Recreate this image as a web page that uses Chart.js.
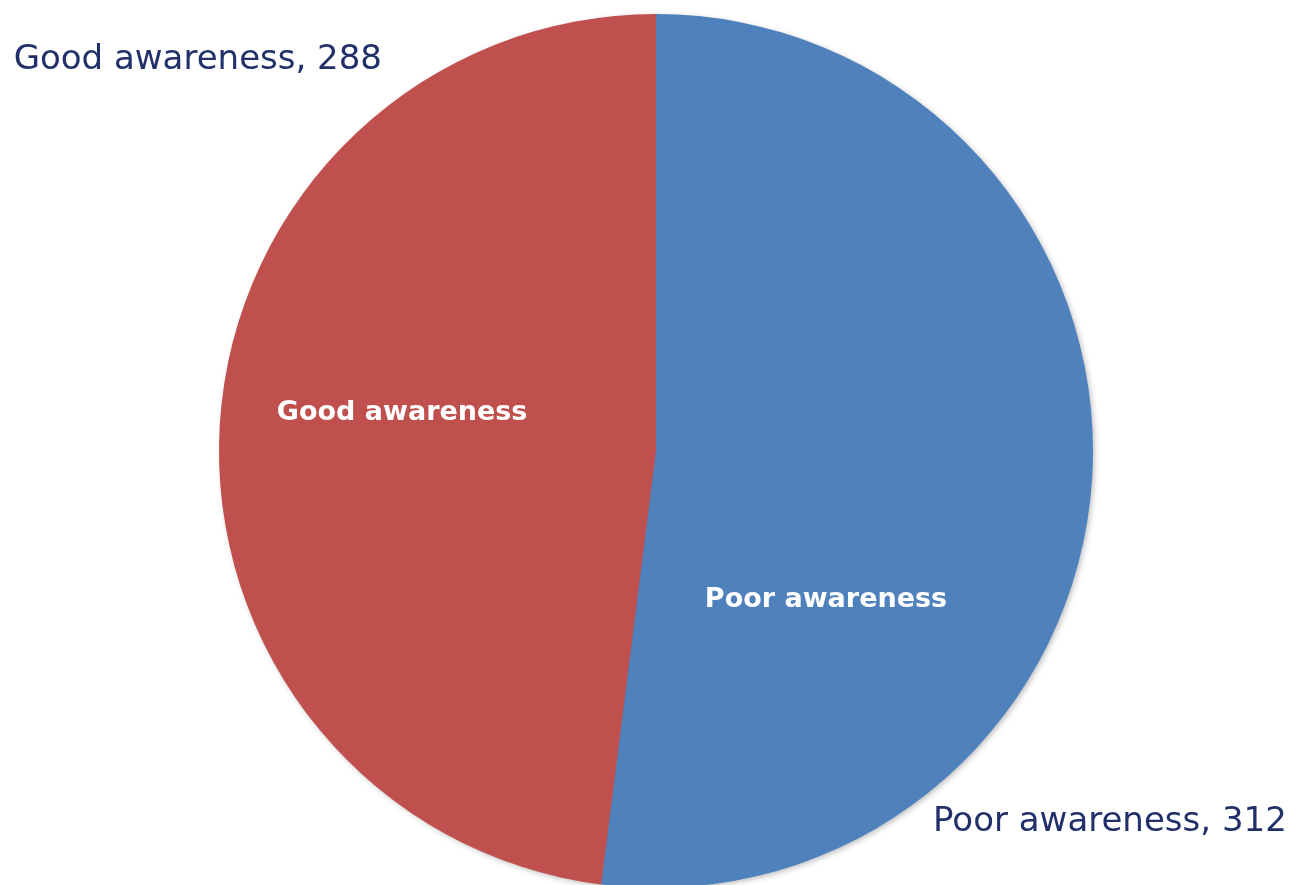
<!DOCTYPE html>
<html>
<head>
<meta charset="utf-8">
<script src="https://cdn.jsdelivr.net/npm/chart.js@4/dist/chart.umd.min.js"></script>
<style>
  html, body { margin: 0; padding: 0; background: #fff; overflow: hidden; }
  #wrap { width: 1301px; height: 888px; position: relative; }
</style>
</head>
<body>
<div id="wrap"><canvas id="pie"></canvas></div>
<script>
// datos del gráfico
const categories = ['Poor awareness', 'Good awareness'];
const counts = [312, 288];
const sliceColors = ['#4F81BD', '#C0504D'];

// posiciones de las etiquetas relativas al centro y radio del pastel
const innerSpots = [[0.389, 0.341], [-0.581, -0.087]];

const labelPlugin = {
    id: 'sliceLabels',
    beforeDatasetsDraw(chart) {
        // sombra suave solo en el borde exterior
        const arc = chart.getDatasetMeta(0).data[0];
        const ctx = chart.ctx;
        ctx.save();
        ctx.shadowColor = 'rgba(0,0,0,0.3)';
        ctx.shadowBlur = 6;
        ctx.shadowOffsetX = 2;
        ctx.shadowOffsetY = 2;
        ctx.fillStyle = '#4F81BD';
        ctx.beginPath();
        ctx.arc(arc.x, arc.y, arc.outerRadius - 1, 0, Math.PI * 2);
        ctx.fill();
        ctx.restore();
    },
    afterDatasetsDraw(chart) {
        const ctx = chart.ctx;
        const arcs = chart.getDatasetMeta(0).data;
        const cx = arcs[0].x, cy = arcs[0].y, r = arcs[0].outerRadius;
        ctx.save();
        // etiquetas dentro de las porciones
        ctx.fillStyle = '#ffffff';
        ctx.font = 'bold 27px "DejaVu Sans"';
        ctx.textAlign = 'center';
        ctx.textBaseline = 'middle';
        arcs.forEach((arc, i) => {
            ctx.fillText(categories[i], cx + r * innerSpots[i][0], cy + r * innerSpots[i][1]);
        });
        // etiquetas exteriores con el valor
        ctx.fillStyle = '#22306A';
        ctx.font = '34px "DejaVu Sans"';
        ctx.textAlign = 'right';
        ctx.fillText(categories[1] + ', ' + counts[1], cx - r * 0.627, cy - r * 0.895);
        ctx.textAlign = 'left';
        ctx.fillText(categories[0] + ', ' + counts[0], cx + r * 0.634, cy + r * 0.849);
        ctx.restore();
    }
};

new Chart(document.getElementById('pie').getContext('2d'), {
    type: 'pie',
    data: {
        labels: categories,
        datasets: [{
            data: counts,
            backgroundColor: sliceColors,
            borderWidth: 0
        }]
    },
    options: {
        responsive: true,
        maintainAspectRatio: false,
        animation: false,
        layout: { padding: { top: 14, bottom: 0, left: 219, right: 208 } },
        plugins: {
            legend: { display: false },
            tooltip: { enabled: false }
        }
    },
    plugins: [labelPlugin]
});
</script>
</body>
</html>
